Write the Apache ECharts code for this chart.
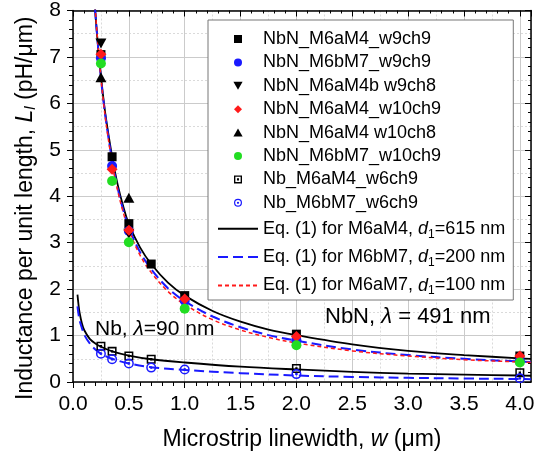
<!DOCTYPE html>
<html><head><meta charset="utf-8">
<script src="https://cdn.jsdelivr.net/npm/echarts@6.0.0/dist/echarts.min.js"></script>
<style>html,body{margin:0;padding:0;background:#fff}#c{width:548px;height:459px}</style>
</head><body><div id="c"></div><script>
// ---- measured NbN points (w in um, L in pH/um) ----
const w_aM4_w9ch9 = [0.25, 0.35, 0.5, 0.7, 1.0, 2.0, 4.0];
const L_aM4_w9ch9 = [7.05, 4.85, 3.41, 2.54, 1.86, 1.03, 0.56];
const w_bM7_w9ch9 = [0.25, 0.35, 0.5, 1.0, 2.0, 4.0];
const L_bM7_w9ch9 = [6.97, 4.65, 3.25, 1.75, 0.90, 0.46];
const w_aM4b_w9ch8 = [0.25, 0.5];
const L_aM4b_w9ch8 = [7.29, 3.19];
const w_aM4_w10ch9 = [0.25, 0.35, 0.5, 1.0, 2.0, 4.0];
const L_aM4_w10ch9 = [7.06, 4.58, 3.27, 1.79, 0.98, 0.56];
const w_aM4_w10ch8 = [0.25, 0.5];
const L_aM4_w10ch8 = [6.56, 3.97];
const w_bM7_w10ch9 = [0.25, 0.35, 0.5, 1.0, 2.0, 4.0];
const L_bM7_w10ch9 = [6.86, 4.33, 3.01, 1.58, 0.79, 0.42];
// ---- measured Nb points ----
const w_Nb_aM4 = [0.25, 0.35, 0.5, 0.7, 2.0, 4.0];
const L_Nb_aM4 = [0.77, 0.66, 0.56, 0.49, 0.29, 0.20];
const w_Nb_bM7 = [0.25, 0.35, 0.5, 0.7, 1.0, 2.0, 4.0];
const L_Nb_bM7 = [0.61, 0.49, 0.40, 0.31, 0.27, 0.17, 0.08];
// ---- Eq.(1) curves ----
const curveW   = [0.19, 0.2, 0.225, 0.25, 0.275, 0.3, 0.35, 0.4, 0.45, 0.5, 0.6, 0.7, 0.85, 1.0, 1.25, 1.5, 1.75, 2.0, 2.5, 3.0, 3.5, 4.0, 4.1];
const curveAM4 = [8.32, 7.95, 7.2, 6.6, 6.05, 5.6, 4.86, 4.25, 3.78, 3.40, 2.90, 2.54, 2.14, 1.86, 1.53, 1.30, 1.13, 1.01, 0.81, 0.67, 0.58, 0.51, 0.50];
const curveBM7 = [8.35, 7.95, 7.2, 6.55, 6.0, 5.55, 4.77, 4.17, 3.70, 3.32, 2.80, 2.43, 2.02, 1.74, 1.41, 1.18, 1.01, 0.89, 0.70, 0.58, 0.50, 0.44, 0.43];
const curveAM7 = [8.4, 8.0, 7.22, 6.55, 5.98, 5.5, 4.72, 4.12, 3.65, 3.27, 2.73, 2.36, 1.95, 1.67, 1.34, 1.12, 0.96, 0.84, 0.67, 0.56, 0.48, 0.43, 0.42];
const nbW      = [0.04, 0.05, 0.06, 0.08, 0.1, 0.15, 0.2, 0.25, 0.35, 0.5, 0.7, 1.0, 1.5, 2.0, 2.5, 3.0, 3.5, 4.0, 4.1];
const nbAM4    = [1.88, 1.65, 1.48, 1.26, 1.12, 0.93, 0.83, 0.76, 0.66, 0.57, 0.49, 0.42, 0.33, 0.27, 0.22, 0.18, 0.16, 0.14, 0.135];
const nbBM7    = [1.63, 1.45, 1.32, 1.16, 1.02, 0.83, 0.70, 0.61, 0.50, 0.40, 0.32, 0.26, 0.19, 0.14, 0.11, 0.09, 0.075, 0.065, 0.06];

const zip = (xs, ys) => xs.map((x, i) => [x, ys[i]]);
const FONT = 'Liberation Sans, Arial, sans-serif';
const RECT = 'path://M0,0H10V10H0Z';
const DIAMOND = 'path://M5,0L10,5L5,10L0,5Z';
const TRI_UP = 'path://M5,0L10,8.7H0Z';
const TRI_DOWN = 'path://M0,0H10L5,8.7Z';
const SQ_DOT = 'path://M0,0H10V10H0Z M1.7,1.7V8.3H8.3V1.7Z M3.7,3.7H6.3V6.3H3.7Z';
const CIRC_DOT = 'path://M5,0A5,5,0,1,1,5,10A5,5,0,1,1,5,0Z M5,1.5A3.5,3.5,0,1,0,5,8.5A3.5,3.5,0,1,0,5,1.5Z M5,3.6A1.4,1.4,0,1,1,5,6.4A1.4,1.4,0,1,1,5,3.6Z';

const scatter = (name, xs, ys, symbol, size, color) => ({
  name, type: 'scatter', data: zip(xs, ys), symbol, symbolSize: size,
  itemStyle: { color, opacity: 1 }, z: 4, xAxisIndex: 0, yAxisIndex: 0
});
const curve = (name, xs, ys, color, width, dash) => ({
  name, type: 'line', data: zip(xs, ys), symbol: 'none', smooth: 0.35,
  lineStyle: { color, width, type: dash }, itemStyle: { color }, z: 3, clip: true,
  xAxisIndex: 0, yAxisIndex: 0
});

const EQ1 = 'Eq. (1) for M6aM4, d1=615 nm';
const EQ2 = 'Eq. (1) for M6bM7, d1=200 nm';
const EQ3 = 'Eq. (1) for M6aM7, d1=100 nm';

const series = [
  curve(EQ1, curveW, curveAM4, '#000000', 1.8, 'solid'),
  curve(EQ2, curveW, curveBM7, '#1a1aff', 2, [10, 5]),
  curve(EQ3, curveW, curveAM7, '#ff1a1a', 1.5, [4, 3]),
  curve('nbA', nbW, nbAM4, '#000000', 1.8, 'solid'),
  curve('nbB', nbW, nbBM7, '#1a1aff', 2, [10, 5]),
  scatter('NbN_M6aM4_w9ch9', w_aM4_w9ch9, L_aM4_w9ch9, RECT, 9, '#000000'),
  scatter('NbN_M6bM7_w9ch9', w_bM7_w9ch9, L_bM7_w9ch9, 'circle', 10, '#1a1aff'),
  scatter('NbN_M6aM4b w9ch8', w_aM4b_w9ch8, L_aM4b_w9ch8, TRI_DOWN, [11, 10], '#000000'),
  scatter('NbN_M6aM4_w10ch9', w_aM4_w10ch9, L_aM4_w10ch9, DIAMOND, 11, '#ff1a1a'),
  scatter('NbN_M6aM4 w10ch8', w_aM4_w10ch8, L_aM4_w10ch8, TRI_UP, [11, 10], '#000000'),
  scatter('NbN_M6bM7_w10ch9', w_bM7_w10ch9, L_bM7_w10ch9, 'circle', 10, '#22dd22'),
  scatter('Nb_M6aM4_w6ch9', w_Nb_aM4, L_Nb_aM4, SQ_DOT, 9, '#000000'),
  scatter('Nb_M6bM7_w6ch9', w_Nb_bM7, L_Nb_bM7, CIRC_DOT, 10, '#1a1aff')
];

const legendNames = ['NbN_M6aM4_w9ch9', 'NbN_M6bM7_w9ch9', 'NbN_M6aM4b w9ch8', 'NbN_M6aM4_w10ch9',
  'NbN_M6aM4 w10ch8', 'NbN_M6bM7_w10ch9', 'Nb_M6aM4_w6ch9', 'Nb_M6bM7_w6ch9', EQ1, EQ2, EQ3];

const gridLine = { show: true, lineStyle: { color: '#cbcbcb', width: 1, type: 'solid' } };
const minorGrid = { show: true, lineStyle: { color: '#dadada', width: 1, type: [2, 2] } };
const axisLine = { show: true, onZero: false, lineStyle: { color: '#000', width: 1.5 } };

const option = {
  animation: false,
  backgroundColor: '#ffffff',
  textStyle: { fontFamily: FONT },
  grid: { left: 73, right: 17, top: 9, bottom: 77, containLabel: false },
  xAxis: [
    { type: 'value', position: 'bottom', min: 0, max: 4.1, interval: 0.5,
      axisLine, axisTick: { show: true, inside: false, length: 6, lineStyle: { color: '#000', width: 1 } },
      minorTick: { show: false, splitNumber: 2 }, splitLine: gridLine, minorSplitLine: minorGrid,
      axisLabel: { show: true, fontSize: 21, color: '#000', margin: 12, fontFamily: FONT,
        formatter: v => v.toFixed(1) },
      name: '{n|Microstrip linewidth, }{i|w}{n| (μm)}', nameLocation: 'middle', nameGap: 46,
      nameTextStyle: { rich: { n: { fontSize: 23, fontFamily: FONT, color: '#000' },
        i: { fontSize: 23, fontFamily: FONT, fontStyle: 'italic', color: '#000' } } } },
    { type: 'value', position: 'top', min: 0, max: 4.1, interval: 0.5,
      axisLine, axisTick: { show: true, inside: true, length: 6, lineStyle: { color: '#000' } },
      minorTick: { show: true, splitNumber: 5, length: 3, lineStyle: { color: '#000' } },
      splitLine: { show: false }, axisLabel: { show: false } },
    { type: 'value', position: 'bottom', min: 0, max: 4.1, interval: 0.5,
      axisLine: { show: false }, axisTick: { show: false },
      minorTick: { show: true, splitNumber: 5, length: 4, lineStyle: { color: '#000' } },
      splitLine: { show: false }, axisLabel: { show: false } }
  ],
  yAxis: [
    { type: 'value', position: 'left', min: 0, max: 8, interval: 1,
      axisLine, axisTick: { show: true, inside: false, length: 6, lineStyle: { color: '#000', width: 1 } },
      minorTick: { show: false, splitNumber: 2 }, splitLine: gridLine, minorSplitLine: minorGrid,
      axisLabel: { show: true, fontSize: 21, color: '#000', margin: 12, fontFamily: FONT },
      name: '{n|Inductance per unit length, }{i|L}{s|l}{n| (pH/μm)}', nameLocation: 'middle', nameGap: 21,
      nameTextStyle: { padding: [0, 24, 0, 0], rich: { n: { fontSize: 23, fontFamily: FONT, color: '#000' },
        i: { fontSize: 23, fontFamily: FONT, fontStyle: 'italic', color: '#000' },
        s: { fontSize: 15, fontFamily: FONT, fontStyle: 'italic', color: '#000', padding: [10, 0, 0, 0] } } } },
    { type: 'value', position: 'right', min: 0, max: 8, interval: 1,
      axisLine, axisTick: { show: true, inside: true, length: 6, lineStyle: { color: '#000' } },
      minorTick: { show: true, splitNumber: 5, length: 3, lineStyle: { color: '#000' } },
      splitLine: { show: false }, axisLabel: { show: false } },
    { type: 'value', position: 'left', min: 0, max: 8, interval: 1,
      axisLine: { show: false }, axisTick: { show: false },
      minorTick: { show: true, splitNumber: 5, length: 4, lineStyle: { color: '#000' } },
      splitLine: { show: false }, axisLabel: { show: false } }
  ],
  legend: {
    orient: 'vertical', left: 208, top: 20, selectedMode: false,
    data: legendNames.map(n => n.startsWith('Eq.') ? { name: n, itemStyle: { opacity: 0 } } : { name: n }),
    itemWidth: 40, itemHeight: 8, itemGap: 5.4,
    padding: [10, 8, 3, 9],
    backgroundColor: '#ffffff', borderColor: '#777', borderWidth: 1, borderRadius: 0,
    textStyle: { fontSize: 18, fontFamily: FONT, color: '#000', lineHeight: 16,
      rich: { n: { fontSize: 18, fontFamily: FONT, color: '#000', lineHeight: 16 },
        i: { fontSize: 18, fontFamily: FONT, color: '#000', fontStyle: 'italic', lineHeight: 16 },
        s: { fontSize: 12, fontFamily: FONT, color: '#000', lineHeight: 12, padding: [11, 0, 0, 0] } } },
    formatter: name => {
      const m = name.match(/^(.*, )d1(=.*)$/);
      if (m) return '{n|' + m[1] + '}{i|d}{s|1}{n|' + m[2] + '}';
      return '{n|' + name + '}';
    }
  },
  graphic: [
    { type: 'text', left: 325, top: 306, z: 10,
      style: { text: '{n|NbN, }{i|λ}{n| = 491 nm}', rich: {
        n: { fontSize: 22, fontFamily: FONT, fill: '#000' },
        i: { fontSize: 22, fontFamily: FONT, fontStyle: 'italic', fill: '#000' } } } },
    { type: 'text', left: 95, top: 319, z: 10,
      style: { text: '{n|Nb, }{i|λ}{n|=90 nm}', rich: {
        n: { fontSize: 21, fontFamily: FONT, fill: '#000' },
        i: { fontSize: 21, fontFamily: FONT, fontStyle: 'italic', fill: '#000' } } } }
  ],
  series
};
const chart = echarts.init(document.getElementById('c'), null, { renderer: 'canvas' });
chart.setOption(option);
</script></body></html>
